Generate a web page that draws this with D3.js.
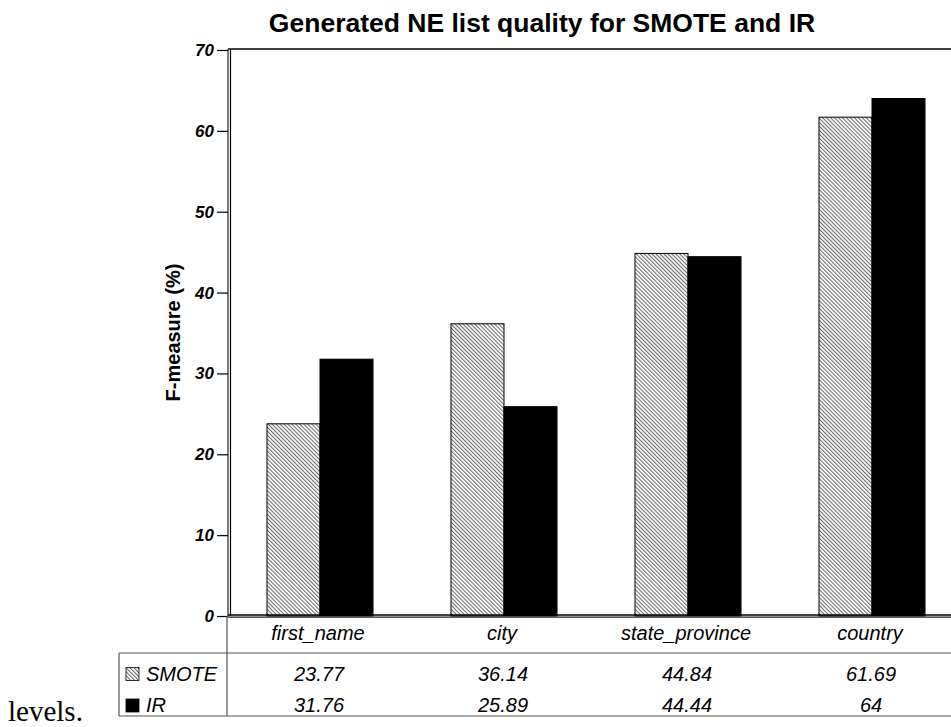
<!DOCTYPE html>
<html>
<head>
<meta charset="utf-8">
<script src="https://cdn.jsdelivr.net/npm/d3@7"></script>
<style>
  body { margin: 0; background: #fff; }
  svg { display: block; }
</style>
</head>
<body>
<svg id="chart" width="951" height="727"></svg>
<script>
var categories = ["first_name", "city", "state_province", "country"];
var seriesNames = ["SMOTE", "IR"];
var smoteValues = [23.77, 36.14, 44.84, 61.69];
var irValues = [31.76, 25.89, 44.44, 64];
var valueLabels = [["23.77", "36.14", "44.84", "61.69"], ["31.76", "25.89", "44.44", "64"]];
var yTicks = [0, 10, 20, 30, 40, 50, 60, 70];

var svg = d3.select("#chart");

var plotLeft = 228;
var plotRight = 964;
var plotTop = 49;
var plotBottom = 616;
var groupWidth = 106;

var rows = categories.map(function(c, i) {
  return { cat: c, values: [smoteValues[i], irValues[i]] };
});

var x0 = d3.scaleBand().domain(categories).range([plotLeft, plotRight]).padding(0);
var x1 = d3.scaleBand().domain(seriesNames).range([0, groupWidth]).padding(0);
var y = d3.scaleLinear().domain([0, 70]).range([plotBottom, plotTop + 1]);

var defs = svg.append("defs");
var hatch = defs.append("pattern")
  .attr("id", "hatch")
  .attr("patternUnits", "userSpaceOnUse")
  .attr("width", 2.8).attr("height", 2.8)
  .attr("patternTransform", "rotate(-45)");
hatch.append("rect").attr("width", 2.8).attr("height", 2.8).attr("fill", "#fff");
hatch.append("line")
  .attr("x1", 0.5).attr("y1", 0).attr("x2", 0.5).attr("y2", 2.8)
  .attr("stroke", "#6a6a6a").attr("stroke-width", 1.1);

var fills = { SMOTE: "url(#hatch)", IR: "#000" };
var textFont = "Liberation Sans, Arial, sans-serif";

// title
svg.append("text")
  .attr("x", 542).attr("y", 32)
  .attr("text-anchor", "middle")
  .attr("font-family", textFont)
  .attr("font-weight", "bold")
  .attr("font-size", 26.5)
  .text("Generated NE list quality for SMOTE and IR");

// frame
svg.append("line").attr("x1", plotLeft).attr("x2", 951).attr("y1", plotTop).attr("y2", plotTop)
  .attr("stroke", "#000").attr("stroke-width", 1.5);
svg.append("line").attr("x1", plotLeft).attr("x2", plotLeft).attr("y1", plotTop).attr("y2", plotBottom)
  .attr("stroke", "#222").attr("stroke-width", 1.2);
svg.append("line").attr("x1", plotLeft + 2.5).attr("x2", plotLeft + 2.5).attr("y1", plotTop).attr("y2", plotBottom)
  .attr("stroke", "#000").attr("stroke-width", 1.2);

// y axis
var yAxis = svg.append("g")
  .attr("transform", "translate(" + plotLeft + ",0)")
  .call(d3.axisLeft(y).tickValues(yTicks).tickSize(11).tickPadding(3).tickFormat(d3.format("d")));
yAxis.select(".domain").remove();
yAxis.selectAll("line").attr("stroke", "#000").attr("stroke-width", 1.2);
yAxis.selectAll("text")
  .attr("font-family", textFont)
  .attr("font-weight", "bold")
  .attr("font-style", "italic")
  .attr("font-size", 17)
  .attr("fill", "#000");

svg.append("text")
  .attr("transform", "translate(180," + ((plotTop + plotBottom) / 2) + ") rotate(-90)")
  .attr("text-anchor", "middle")
  .attr("font-family", textFont)
  .attr("font-weight", "bold")
  .attr("font-size", 20)
  .text("F-measure (%)");

// bars
var groups = svg.selectAll(".group")
  .data(rows)
  .enter()
  .append("g")
    .attr("class", "group")
    .attr("transform", function(d) {
      return "translate(" + (x0(d.cat) + (x0.bandwidth() - groupWidth) / 2) + ",0)";
    });

groups.selectAll("rect")
  .data(function(d) {
    return d.values.map(function(v, i) { return { name: seriesNames[i], value: v }; });
  })
  .enter()
  .append("rect")
    .attr("x", function(d) { return x1(d.name); })
    .attr("y", function(d) { return y(d.value); })
    .attr("width", x1.bandwidth())
    .attr("height", function(d) { return plotBottom - y(d.value); })
    .attr("fill", function(d) { return fills[d.name]; })
    .attr("stroke", "#000")
    .attr("stroke-width", 1);

// baseline (double)
svg.append("line").attr("x1", plotLeft).attr("x2", 951).attr("y1", plotBottom - 1).attr("y2", plotBottom - 1)
  .attr("stroke", "#000").attr("stroke-width", 1.3);
svg.append("line").attr("x1", plotLeft).attr("x2", 951).attr("y1", plotBottom + 1.2).attr("y2", plotBottom + 1.2)
  .attr("stroke", "#222").attr("stroke-width", 1.3);

// data table
var tableTop = 653;
var tableBottom = 716;
var rowH = (tableBottom - tableTop) / 2;
var gridColor = "#555";

svg.append("line").attr("x1", 227).attr("x2", 227).attr("y1", plotBottom).attr("y2", tableBottom)
  .attr("stroke", gridColor).attr("stroke-width", 1.2);
svg.append("line").attr("x1", 119).attr("x2", 119).attr("y1", tableTop).attr("y2", tableBottom)
  .attr("stroke", gridColor).attr("stroke-width", 1.2);
[tableTop, tableBottom].forEach(function(yy) {
  svg.append("line").attr("x1", 119).attr("x2", 951).attr("y1", yy).attr("y2", yy)
    .attr("stroke", gridColor).attr("stroke-width", 1.2);
});

svg.selectAll(".catLabel")
  .data(categories)
  .enter()
  .append("text")
    .attr("class", "catLabel")
    .attr("x", function(d) { return x0(d) + x0.bandwidth() / 2 - 2; })
    .attr("y", 640)
    .attr("text-anchor", "middle")
    .attr("font-family", textFont)
    .attr("font-style", "italic")
    .attr("font-size", 20)
    .text(function(d) { return d; });

seriesNames.forEach(function(name, si) {
  var baseY = tableTop + rowH * (si + 1) - 4;
  svg.append("rect")
    .attr("x", 126).attr("y", baseY - 13)
    .attr("width", 13).attr("height", 13)
    .attr("fill", fills[name])
    .attr("stroke", "#000").attr("stroke-width", 0.8);
  svg.append("text")
    .attr("x", 146).attr("y", baseY)
    .attr("font-family", textFont)
    .attr("font-style", "italic")
    .attr("font-size", 20)
    .text(name);
  svg.selectAll(".val" + si)
    .data(valueLabels[si])
    .enter()
    .append("text")
      .attr("class", "val" + si)
      .attr("x", function(d, i) { return x0(categories[i]) + x0.bandwidth() / 2 - 1; })
      .attr("y", baseY)
      .attr("text-anchor", "middle")
      .attr("font-family", textFont)
      .attr("font-style", "italic")
      .attr("font-size", 20)
      .text(function(d) { return d; });
});

// stray text from the page the chart was cut from
svg.append("text")
  .attr("x", 8).attr("y", 721)
  .attr("font-family", "Liberation Serif, Times New Roman, serif")
  .attr("font-size", 29)
  .text("levels.");
</script>
</body>
</html>
